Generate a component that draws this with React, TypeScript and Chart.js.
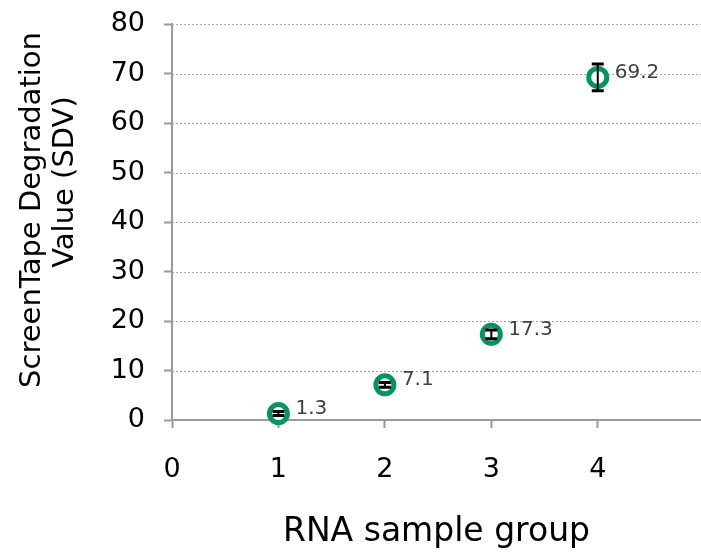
import React, { useEffect, useRef } from "react";
import { Chart, registerables } from "chart.js";

Chart.register(...registerables);

const groups = [1, 2, 3, 4];
const sdvValues = [1.3, 7.1, 17.3, 69.2];
const sdvErrors = [0.4, 0.5, 0.9, 2.7];
const yTitle = ["ScreenTape Degradation", "Value (SDV)"];
const xTitle = "RNA sample group";

const FONT = "'DejaVu Sans', 'Liberation Sans', sans-serif";
const AXIS_GRAY = "#9a9a9a";

const dottedGrid = {
  id: "dottedGrid",
  beforeDatasetsDraw(chart: any) {
    const { ctx, chartArea, scales } = chart;
    const ys = scales.y;
    ctx.save();
    ctx.strokeStyle = "#a6a6a6";
    ctx.lineWidth = 1;
    ctx.setLineDash([2, 2]);
    ys.ticks.forEach((t: any) => {
      if (t.value === 0) return;
      const y = Math.round(ys.getPixelForValue(t.value)) + 0.5;
      ctx.beginPath();
      ctx.moveTo(chartArea.left, y);
      ctx.lineTo(chartArea.right, y);
      ctx.stroke();
    });
    ctx.restore();
  },
};

const yTitlePlugin = {
  id: "yTitlePlugin",
  afterDraw(chart: any) {
    const { ctx } = chart;
    const centres = [
      { x: 32, y: 210 },
      { x: 65, y: 182 },
    ];
    ctx.save();
    ctx.fillStyle = "#000";
    ctx.font = "29px " + FONT;
    ctx.textAlign = "center";
    ctx.textBaseline = "middle";
    yTitle.forEach((line, i) => {
      ctx.save();
      ctx.translate(centres[i].x, centres[i].y);
      ctx.rotate(-Math.PI / 2);
      ctx.fillText(line, 0, 0);
      ctx.restore();
    });
    ctx.restore();
  },
};

const errorAndLabels = {
  id: "errorAndLabels",
  afterDatasetsDraw(chart: any) {
    const { ctx, scales } = chart;
    const xs = scales.x;
    const ys = scales.y;
    ctx.save();
    groups.forEach((g, i) => {
      const x = xs.getPixelForValue(g);
      const yTop = ys.getPixelForValue(sdvValues[i] + sdvErrors[i]);
      const yBot = ys.getPixelForValue(sdvValues[i] - sdvErrors[i]);
      ctx.strokeStyle = "#000";
      ctx.lineWidth = 2;
      ctx.beginPath();
      ctx.moveTo(x, yTop);
      ctx.lineTo(x, yBot);
      ctx.stroke();
      ctx.lineWidth = 3;
      ctx.beginPath();
      ctx.moveTo(x - 6, yTop);
      ctx.lineTo(x + 6, yTop);
      ctx.moveTo(x - 6, yBot);
      ctx.lineTo(x + 6, yBot);
      ctx.stroke();
      const y = ys.getPixelForValue(sdvValues[i]);
      ctx.fillStyle = "#404040";
      ctx.font = "20px " + FONT;
      ctx.textAlign = "left";
      ctx.textBaseline = "middle";
      ctx.fillText(String(sdvValues[i]), x + 17, y - 5);
    });
    ctx.restore();
  },
};

export default function App() {
  const ref = useRef<HTMLCanvasElement>(null);
  useEffect(() => {
    if (!ref.current) return;
    const chart = new Chart(ref.current, {
      type: "scatter",
      data: {
        datasets: [
          {
            data: groups.map((g, i) => ({ x: g, y: sdvValues[i] })),
            pointRadius: 9,
            pointBorderWidth: 5,
            pointBorderColor: "#00965f",
            pointBackgroundColor: "#ffffff",
            pointHoverRadius: 9,
            clip: false,
          },
        ],
      },
      plugins: [dottedGrid, errorAndLabels, yTitlePlugin],
      options: {
        animation: false,
        responsive: false,
        maintainAspectRatio: false,
        layout: { autoPadding: false, padding: { left: 0, right: 0, top: 24, bottom: 0 } },
        plugins: { legend: { display: false }, tooltip: { enabled: false } },
        scales: {
          x: {
            type: "linear",
            min: 0,
            max: 4.97,
            afterBuildTicks: (axis: any) => {
              axis.ticks = axis.ticks.filter((t: any) => Number.isInteger(t.value));
            },
            afterFit: (axis: any) => {
              axis.height = 132;
              axis.paddingLeft = 0;
              axis.paddingRight = 0;
            },
            ticks: {
              stepSize: 1,
              color: "#000",
              padding: 26,
              font: { family: FONT, size: 27 },
            },
            grid: {
              drawOnChartArea: false,
              drawTicks: true,
              tickLength: 8,
              tickColor: AXIS_GRAY,
              tickWidth: 2,
            },
            border: { display: true, color: AXIS_GRAY, width: 2 },
            title: {
              display: true,
              text: xTitle,
              color: "#000",
              font: { family: FONT, size: 33, lineHeight: 1.2 },
              padding: { top: 0, bottom: 0 },
            },
          },
          y: {
            min: 0,
            max: 80,
            afterFit: (axis: any) => {
              axis.width = 172;
              axis.paddingTop = 0;
              axis.paddingBottom = 0;
            },
            ticks: {
              stepSize: 10,
              color: "#000",
              padding: 19,
              font: { family: FONT, size: 27 },
            },
            grid: {
              drawOnChartArea: false,
              drawTicks: true,
              tickLength: 8,
              tickColor: AXIS_GRAY,
              tickWidth: 2,
            },
            border: { display: true, color: AXIS_GRAY, width: 2 },
            title: { display: false },
          },
        },
      },
    } as any);
    return () => chart.destroy();
  }, []);
  return (
    <div style={{ position: "fixed", left: 0, top: 0, width: 701, height: 552, background: "#fff" }}>
      <canvas ref={ref} width={701} height={552} style={{ width: 701, height: 552, display: "block" }} />
    </div>
  );
}
